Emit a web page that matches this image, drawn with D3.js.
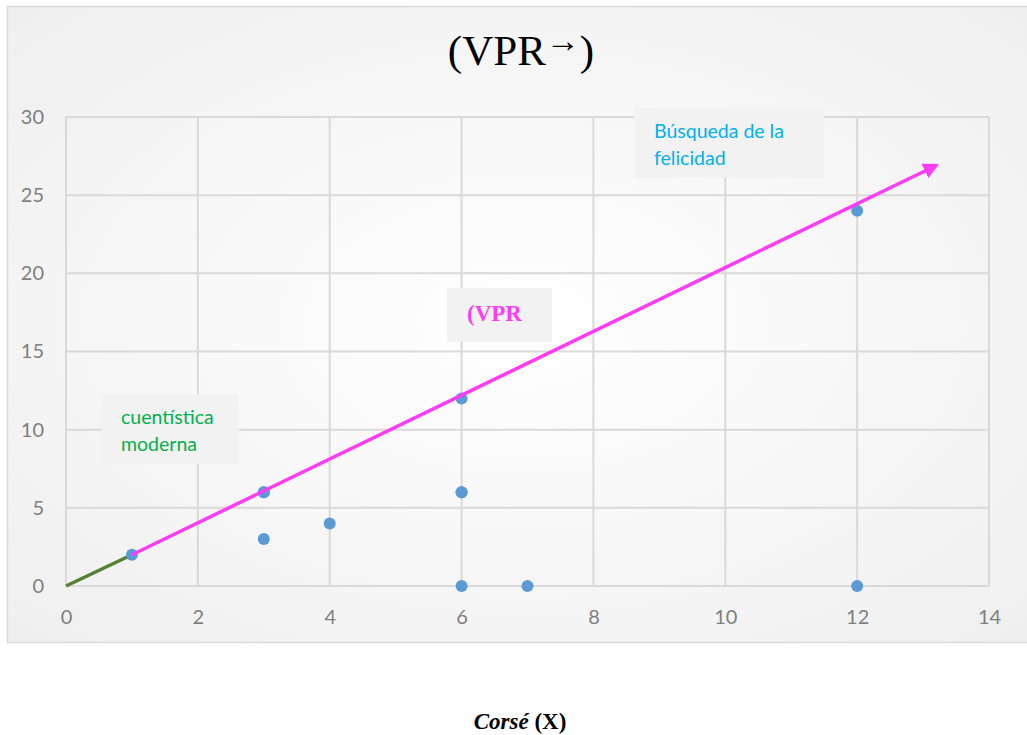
<!DOCTYPE html>
<html>
<head>
<meta charset="utf-8">
<script src="https://cdn.jsdelivr.net/npm/d3@7"></script>
<style>
  body { margin: 0; background: #fff; }
  svg { display: block; }
</style>
</head>
<body>
<svg id="chart"></svg>
<script>
const width = 1027;
const height = 735;
const margin = {top: 117, right: 38, bottom: 149, left: 66}; // plot area inside the frame

// data
const pointsX = [1, 3, 3, 3, 4, 6, 6, 6, 6, 7, 12, 12];
const pointsY = [2, 6, 6, 3, 4, 12, 6, 6, 0, 0, 24, 0];
const greenLineX = [0, 1];
const greenLineY = [0, 2];
const pinkLineX = [1, 13.2];
const pinkLineY = [2, 26.9];
const xTicks = [0, 2, 4, 6, 8, 10, 12, 14];
const yTicks = [0, 5, 10, 15, 20, 25, 30];

const svg = d3.select("#chart")
  .attr("width", width)
  .attr("height", height);

const defs = svg.append("defs");
const grad = defs.append("radialGradient")
  .attr("id", "bg")
  .attr("cx", "50%").attr("cy", "50%").attr("r", "70%");
grad.append("stop").attr("offset", "0%").attr("stop-color", "#ffffff");
grad.append("stop").attr("offset", "100%").attr("stop-color", "#efefef");

defs.append("marker")
  .attr("id", "arrow")
  .attr("viewBox", "0 0 10 10")
  .attr("refX", 8).attr("refY", 5)
  .attr("markerWidth", 4.5).attr("markerHeight", 4.5)
  .attr("orient", "auto")
  .append("path")
  .attr("d", "M0,0 L10,5 L0,10 Z")
  .attr("fill", "#ff3cf5");

// chart frame
svg.append("rect")
  .attr("x", 7.5).attr("y", 6.5)
  .attr("width", 1030).attr("height", 636)
  .attr("fill", "url(#bg)")
  .attr("stroke", "#d9d9d9")
  .attr("stroke-width", 1.5);

const x = d3.scaleLinear().domain([0, 14]).range([margin.left, width - margin.right]);
const y = d3.scaleLinear().domain([0, 30]).range([height - margin.bottom, margin.top]);

// gridlines
svg.append("g")
  .attr("stroke", "#d9d9d9")
  .attr("stroke-width", 2)
  .call(g => g.selectAll(".vx").data(xTicks).enter().append("line")
    .attr("x1", d => x(d)).attr("x2", d => x(d))
    .attr("y1", y(0)).attr("y2", y(30)))
  .call(g => g.selectAll(".hy").data(yTicks).enter().append("line")
    .attr("x1", x(0)).attr("x2", x(14))
    .attr("y1", d => y(d)).attr("y2", d => y(d)));

// axes (labels only)
const xAxis = svg.append("g")
  .attr("transform", `translate(0,${y(0)})`)
  .call(d3.axisBottom(x).tickValues(xTicks).tickSize(0).tickPadding(24));
const yAxis = svg.append("g")
  .attr("transform", `translate(${x(0)},0)`)
  .call(d3.axisLeft(y).tickValues(yTicks).tickSize(0).tickPadding(22));
[xAxis, yAxis].forEach(a => {
  a.select(".domain").remove();
  a.selectAll("text")
    .attr("fill", "#7f7f7f")
    .style("font-family", "Lato, 'Open Sans', sans-serif")
    .style("font-size", "20px");
});

// annotation boxes
function note(x0, y0, w, h, lines, color, font, size, weight, firstY) {
  svg.append("rect")
    .attr("x", x0).attr("y", y0)
    .attr("width", w).attr("height", h)
    .attr("fill", "#f2f2f2");
  const t = svg.append("text")
    .attr("fill", color)
    .style("font-family", font)
    .style("font-size", size + "px")
    .style("font-weight", weight);
  lines.forEach((l, i) => {
    t.append("tspan")
      .attr("x", x0 + 20)
      .attr("y", y0 + firstY + i * 27)
      .text(l);
  });
}
note(634, 108, 190, 70, ["Búsqueda de la", "felicidad"], "#00b0f0", "Lato, sans-serif", 19.5, "normal", 30);
note(101, 394, 138, 70, ["cuentística", "moderna"], "#00b050", "Lato, sans-serif", 19.5, "normal", 30);
note(447, 288, 105, 54, ["(VPR"], "#ff3cf5", "'Liberation Serif', serif", 23, "bold", 33);

// lines
const line = d3.line().x(d => x(d[0])).y(d => y(d[1]));
svg.append("path")
  .datum(greenLineX.map((d, i) => [d, greenLineY[i]]))
  .attr("d", line)
  .attr("stroke", "#548235")
  .attr("stroke-width", 3.5)
  .attr("fill", "none");

// points
svg.append("g")
  .selectAll("circle")
  .data(pointsX.map((d, i) => [d, pointsY[i]]))
  .enter()
  .append("circle")
  .attr("cx", d => x(d[0]))
  .attr("cy", d => y(d[1]))
  .attr("r", 6)
  .attr("fill", "#5b9bd5");

svg.append("path")
  .datum(pinkLineX.map((d, i) => [d, pinkLineY[i]]))
  .attr("d", line)
  .attr("stroke", "#ff3cf5")
  .attr("stroke-width", 3.5)
  .attr("fill", "none")
  .attr("marker-end", "url(#arrow)");

// title
const title = svg.append("text")
  .attr("x", 521).attr("y", 65)
  .attr("text-anchor", "middle")
  .attr("fill", "#000")
  .style("font-family", "'Liberation Serif', 'Times New Roman', serif")
  .style("font-size", "43px");
title.append("tspan").text("(VPR");
title.append("tspan").attr("dy", -13).style("font-size", "34px").text("→");
title.append("tspan").attr("dy", 13).text(")");

// x axis caption under the frame
const cap = svg.append("text")
  .attr("x", 520).attr("y", 729)
  .attr("text-anchor", "middle")
  .attr("fill", "#000")
  .style("font-family", "'Liberation Serif', 'Times New Roman', serif")
  .style("font-size", "23px")
  .style("font-weight", "bold");
cap.append("tspan").style("font-style", "italic").text("Corsé");
cap.append("tspan").text(" (X)");
</script>
</body>
</html>
